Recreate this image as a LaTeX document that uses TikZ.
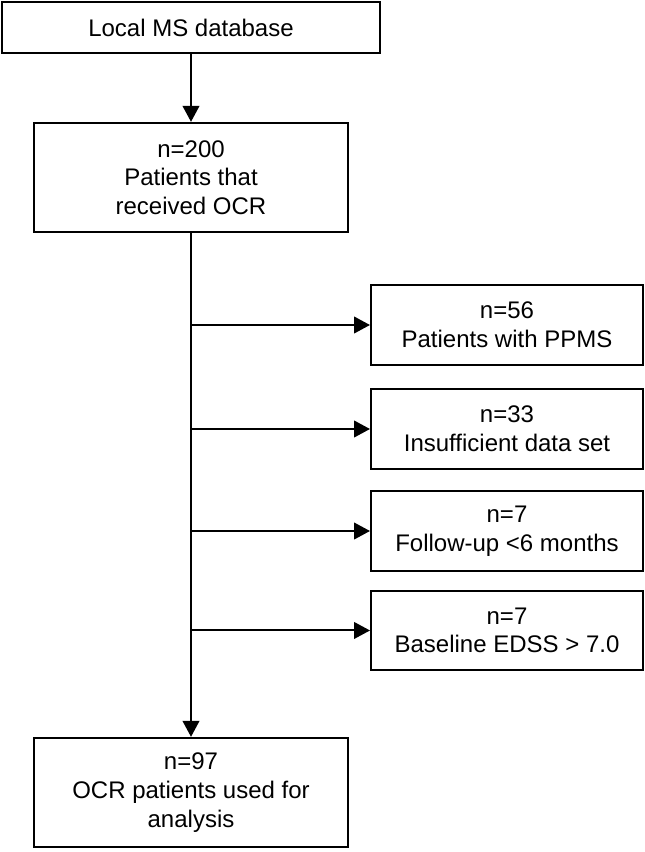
\documentclass[tikz,border=0pt]{standalone}
\usepackage{fontspec}
\setmainfont{Liberation Sans}
\usetikzlibrary{arrows.meta,positioning}

\begin{document}
\begin{tikzpicture}[
    x = 0.75pt, y = -0.75pt, % pixel grid of the figure
    > = {Triangle[length=12pt,width=12.5pt]}, % arrow head style
    line width = 1.5pt
    ]

    \tikzset{
    box/.style = {
    draw = black,
    fill = white,
    align = center,
    inner sep = 2pt,
    font = \fontsize{18}{21.5}\selectfont
    },
    mainbox/.style = {box, minimum width = 235pt, minimum height = 82pt},
    sidebox/.style = {box, minimum width = 204pt, minimum height = 59.5pt}
    }

    \useasboundingbox (0,0) rectangle (645,852);

    \node[box, minimum width = 284pt, minimum height = 38pt] (db) at (191,27.5) {Local MS database};
    \node[mainbox] (all) at (191,177.5) {n=200\\Patients that\\received OCR};
    \node[sidebox] (ppms) at (507,325) {n=56\\Patients with PPMS};
    \node[sidebox] (data) [below=17pt of ppms] {n=33\\Insufficient data set};
    \node[sidebox] (fup) [below=15.5pt of data] {n=7\\Follow-up <6 months};
    \node[sidebox] (edss) [below=13.6pt of fup] {n=7\\Baseline EDSS > 7.0};
    \node[mainbox] (final) at (191,792.5) {n=97\\OCR patients used for\\analysis};

    \path[->] (db) edge (all);
    \path[->] (all) edge (final);
    \path[->] (all.south |- ppms.west) edge (ppms);
    \path[->] (all.south |- data.west) edge (data);
    \path[->] (all.south |- fup.west) edge (fup);
    \path[->] (all.south |- edss.west) edge (edss);

\end{tikzpicture}
\end{document}
